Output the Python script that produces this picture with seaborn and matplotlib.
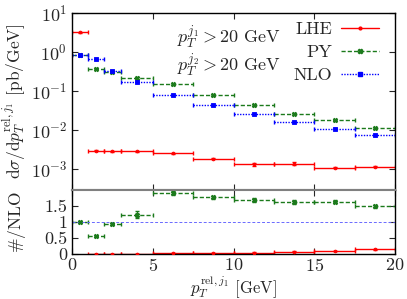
import numpy as np
import pandas as pd
import matplotlib
matplotlib.use('Agg')
import matplotlib.pyplot as plt
from matplotlib.lines import Line2D
import seaborn as sns

# bin edges in p_T^{rel,j1} [GeV]
bin_lo = [0, 1, 2, 3, 5, 7.5, 10, 12.5, 15, 17.5]
bin_hi = [1, 2, 3, 5, 7.5, 10, 12.5, 15, 17.5, 20]

# dsigma/dpT [pb/GeV]
lhe = [3.1, 0.0029, 0.0028, 0.0028, 0.0025, 0.0018, 0.00131, 0.00136, 0.00107, 0.00112]
py = [0.80, 0.37, 0.30, 0.21, 0.148, 0.076, 0.042, 0.026, 0.0175, 0.011]
nlo = [0.80, 0.66, 0.32, 0.17, 0.078, 0.043, 0.025, 0.016, 0.0107, 0.0074]

# relative errors
lhe_rel = [0.02, 0.03, 0.03, 0.02, 0.04, 0.03, 0.10, 0.07, 0.03, 0.03]
py_rel = [0.02, 0.03, 0.04, 0.08, 0.03, 0.03, 0.04, 0.03, 0.03, 0.03]
nlo_rel = [0.01, 0.01, 0.01, 0.01, 0.01, 0.01, 0.01, 0.01, 0.01, 0.01]

series = [
    ('LHE', lhe, lhe_rel, '#ff0000', '-', 'o', 2.0),
    ('PY', py, py_rel, '#1b7a1b', (0, (3, 1.5)), 'X', 3.2),
    ('NLO', nlo, nlo_rel, '#0000ff', (0, (1, 1)), 's', 2.8),
]

sns.set_style('ticks')
plt.rcParams['font.family'] = ['cmr10', 'DejaVu Serif']
plt.rcParams['mathtext.fontset'] = 'cm'
plt.rcParams['axes.formatter.use_mathtext'] = True
plt.rcParams['axes.unicode_minus'] = False
FS = 13

lo = np.array(bin_lo)
hi = np.array(bin_hi)
xc = (lo + hi) / 2
xw = (hi - lo) / 2

fig = plt.figure(figsize=(4.07, 2.99), dpi=100)
ax = fig.add_axes([0.177, 0.365, 0.794, 0.593])
axr = fig.add_axes([0.177, 0.1495, 0.794, 0.2155], sharex=ax)

nlo_arr = np.array(nlo)
nlo_rel_arr = np.array(nlo_rel)
for name, vals, rel, col, ls, mk, ms in series:
    v = np.array(vals)
    r = np.array(rel)
    df = pd.DataFrame({'x': xc, 'y': v})
    eb = ax.errorbar(xc, v, xerr=xw, yerr=v * r, fmt='none', ecolor=col,
                     elinewidth=1.0, capsize=1.5, capthick=1.0)
    eb[2][0].set_linestyle(ls)
    sns.scatterplot(data=df, x='x', y='y', ax=ax, color=col, marker=mk, s=(ms * 1.39) ** 2 / 1.9,
                    edgecolor=col, linewidth=0.6, legend=False, zorder=3)
    if name == 'NLO':
        continue
    ratio = v / nlo_arr
    rerr = ratio * np.sqrt(r ** 2 + nlo_rel_arr ** 2)
    rdf = pd.DataFrame({'x': xc, 'y': ratio})
    eb2 = axr.errorbar(xc, ratio, xerr=xw, yerr=rerr, fmt='none', ecolor=col,
                       elinewidth=1.0, capsize=1.5, capthick=1.0)
    eb2[2][0].set_linestyle(ls)
    sns.scatterplot(data=rdf, x='x', y='y', ax=axr, color=col, marker=mk, s=(ms * 1.39) ** 2 / 1.9,
                    edgecolor=col, linewidth=0.6, legend=False, zorder=3)

axr.axhline(1.0, color='#6a6aff', lw=0.7, ls=(0, (3, 2)))

# legend with proxy handles so the marker shows in the middle
handles = []
for name, vals, rel, col, ls, mk, ms in series:
    handles.append(Line2D([], [], color=col, ls=ls, lw=1.0, marker=mk, ms=ms,
                          mec=col, mfc=col))
ax.legend(handles, [s[0] for s in series], loc='upper right', frameon=False,
          markerfirst=False, fontsize=FS, handlelength=2.1, labelspacing=0.4,
          borderaxespad=0.0, handletextpad=0.5, bbox_to_anchor=(0.972, 0.99))

ax.text(0.325, 0.86, r'$p_T^{j_1} > 20\ \mathrm{GeV}$', transform=ax.transAxes,
        fontsize=FS, va='center', ha='left')
ax.text(0.325, 0.70, r'$p_T^{j_2} > 20\ \mathrm{GeV}$', transform=ax.transAxes,
        fontsize=FS, va='center', ha='left')

ax.set_yscale('log')
ax.set_ylim(2.9e-4, 10)
ax.set_xlim(0, 20)
ax.set_xlabel('')
ax.set_ylabel(r'$\mathrm{d}\sigma/\mathrm{d}p_T^{\mathrm{rel},j_1}$ [pb/GeV]', fontsize=12.5)
ax.set_yticks([1e-3, 1e-2, 1e-1, 1, 10])
ax.tick_params(axis='x', labelbottom=False)
ax.tick_params(which='both', direction='in', top=True, right=True, labelsize=FS)
ax.tick_params(which='major', length=4)
ax.tick_params(which='minor', length=2)

axr.set_ylim(0, 2)
axr.set_yticks([0, 0.5, 1, 1.5])
axr.set_yticklabels(['0', '0.5', '1', '1.5'])
axr.set_xticks([0, 5, 10, 15, 20])
axr.set_xlabel(r'$p_T^{\mathrm{rel},j_1}$ [GeV]', fontsize=12)
axr.set_ylabel(r'$\#/\mathrm{NLO}$', fontsize=12.5)
axr.tick_params(which='both', direction='in', top=True, right=True, labelsize=FS, length=4)
axr.tick_params(axis='x', pad=2)

for a in (ax, axr):
    for sp in a.spines.values():
        sp.set_linewidth(1.0)
        sp.set_color('black')
ax.spines['bottom'].set_color('#808080')
ax.spines['bottom'].set_linewidth(1.5)
axr.spines['top'].set_color('#808080')
axr.spines['top'].set_linewidth(1.5)
ax.yaxis.set_label_coords(-0.137, 0.5)
axr.yaxis.set_label_coords(-0.137, 0.5)
axr.xaxis.set_label_coords(0.5, -0.285)

fig.savefig('out.png', dpi=100)
